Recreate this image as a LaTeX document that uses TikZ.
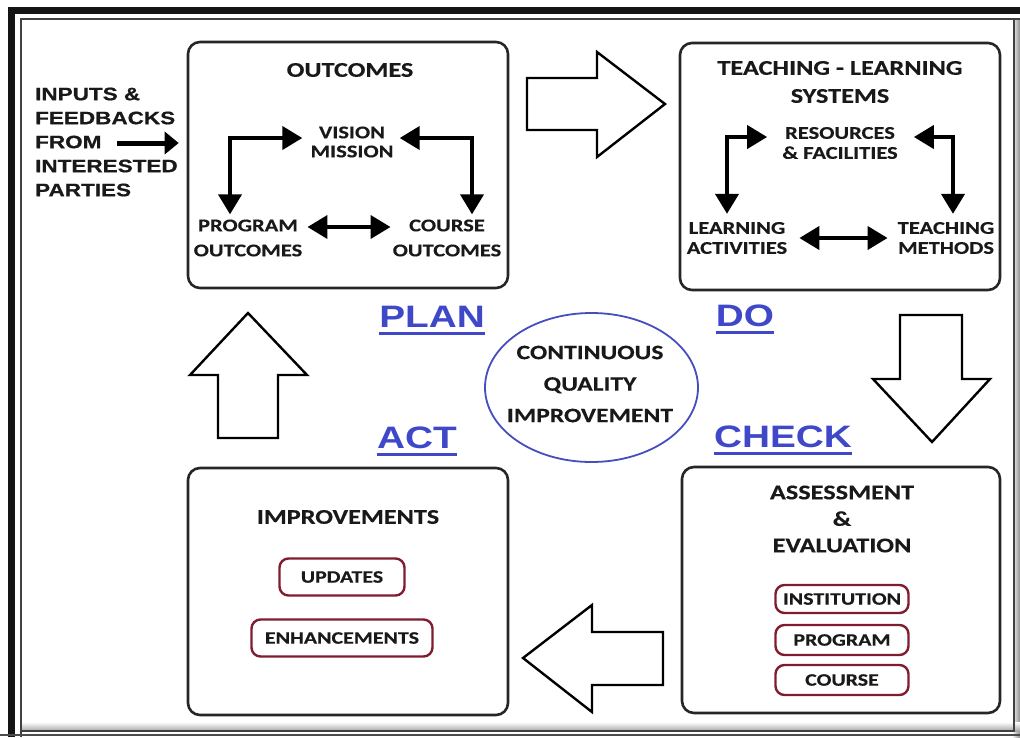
\documentclass[tikz,border=0pt]{standalone}
\usepackage{fontspec}
\usetikzlibrary{arrows.meta,shapes.geometric}
\newfontfamily\cb[FakeStretch=1.25,FakeBold=0.3]{Carlito}
\newfontfamily\ab[FakeStretch=1.25,FakeBold=0.6]{Liberation Sans}
\newfontfamily\abl[FakeStretch=1.25]{Liberation Sans}
\definecolor{lblue}{RGB}{62,72,200}
\definecolor{eblue}{RGB}{70,78,190}
\definecolor{boxred}{RGB}{128,28,45}
\definecolor{txt}{RGB}{25,25,25}
\newcommand{\fs}[2]{\fontsize{#1}{#2}\selectfont}
\tikzset{
  bigbox/.style={draw=black!85, line width=2.6pt, rounded corners=12pt, inner sep=0pt},
  redbox/.style={draw=boxred, line width=2.4pt, rounded corners=9pt, inner sep=0pt, text=txt, font=\cb\bfseries\fs{17.5}{20}},
  ttl/.style={text=txt, align=center, inner sep=2pt, font=\cb\bfseries\fs{21}{28}},
  inner/.style={text=txt, align=center, inner sep=2pt},
  dbl/.style={line width=4pt, {Triangle[length=20pt,width=23pt]}-{Triangle[length=20pt,width=23pt]}},
  hollow/.style={draw, line width=2.4pt, fill=white, line join=miter},
  lbl/.style={text=lblue, font=\abl\bfseries\fs{31}{31}, inner sep=0pt, anchor=base},
  uline/.style={draw=lblue, line width=2.4pt},
}
\begin{document}
\begin{tikzpicture}[x=1pt,y=-1pt]
\useasboundingbox (0,0) rectangle (1020,737);
\fill[white] (0,0) rectangle (1020,737);
% outer frame (cut at right and bottom)
\shade[left color=white, right color=black!45] (1012,19) rectangle (1020,737);
\shade[top color=white, bottom color=black!35] (21,722) rectangle (1020,731);
\draw[line width=7pt, black!92] (11.5,737) -- (11.5,10.5) -- (1020,10.5);
\draw[line width=1.6pt, black!75] (21,737) -- (21,19) -- (1020,19);
\draw[line width=1.6pt, black!75] (21,731) -- (1014,731) -- (1014,19);
\draw[line width=1.4pt, black!70] (0,735) -- (1020,735);

% main boxes
\node[bigbox, minimum width=320, minimum height=246] (outbox) at (348,165) {};
\node[bigbox, minimum width=320, minimum height=247] (tlbox) at (840,166.5) {};
\node[bigbox, minimum width=320, minimum height=247] (impbox) at (348,591.5) {};
\node[bigbox, minimum width=318, minimum height=246] (assbox) at (841,590) {};

% inputs
\node[text=txt, align=left, anchor=west, inner sep=0pt, font=\ab\bfseries\fs{18}{24}] (inputs) at (35,142)
  {INPUTS \&\\FEEDBACKS\\FROM\\INTERESTED\\PARTIES};
\coordinate (instart) at (117,143);
\draw[line width=5pt, -{Triangle[length=14pt,width=22pt]}, shorten >=8pt] (instart) -- (instart -| outbox.west);

% OUTCOMES box
\node[ttl] (outtitle) at (350,70) {OUTCOMES};
\node[inner, font=\cb\bfseries\fs{18}{19}] (vm) at (352,142) {VISION\\MISSION};
\node[inner, font=\cb\bfseries\fs{18}{25}] (po) at (248,238) {PROGRAM\\OUTCOMES};
\node[inner, font=\cb\bfseries\fs{18}{25}] (co) at (447,238) {COURSE\\OUTCOMES};
\draw[dbl] ([yshift=4pt,xshift=-6pt]vm.west) -| ([xshift=-18pt,yshift=3pt]po.north);
\draw[dbl] ([yshift=4pt,xshift=4pt]vm.east) -| ([xshift=25pt,yshift=3pt]co.north);
\draw[dbl] ([yshift=11pt,xshift=3pt]po.east) -- ([yshift=11pt]co.west);

% TEACHING box
\node[ttl] (tltitle) at (840,82) {TEACHING - LEARNING\\SYSTEMS};
\node[inner, font=\cb\bfseries\fs{18}{20}] (rs) at (840,143) {RESOURCES\\\& FACILITIES};
\node[inner, font=\cb\bfseries\fs{18}{20}] (la) at (737,238) {LEARNING\\ACTIVITIES};
\node[inner, font=\cb\bfseries\fs{18}{20}] (tm) at (946,238) {TEACHING\\METHODS};
\draw[dbl] ([yshift=6pt,xshift=-13pt]rs.west) -| ([xshift=-10pt,yshift=6pt]la.north);
\draw[dbl] ([yshift=6pt,xshift=14pt]rs.east) -| ([xshift=7pt,yshift=6pt]tm.north);
\draw[dbl] ([xshift=10pt]la.east) -- ([xshift=-8pt]tm.west);

% IMPROVEMENTS box
\node[ttl] (imptitle) at (348,517) {IMPROVEMENTS};
\node[redbox, minimum width=125, minimum height=37] (upd) at (342,577) {UPDATES};
\node[redbox, minimum width=181, minimum height=37] (enh) at (342,638) {ENHANCEMENTS};

% ASSESSMENT box
\node[ttl, font=\cb\bfseries\fs{21}{26.5}] (asstitle) at (842,519) {ASSESSMENT\\\&\\EVALUATION};
\node[redbox, minimum width=133, minimum height=28] (inst) at (842,599) {INSTITUTION};
\node[redbox, minimum width=133, minimum height=30] (prog) at (842,640) {PROGRAM};
\node[redbox, minimum width=133, minimum height=30] (crs) at (842,680) {COURSE};

% hollow arrows
\draw[hollow] (527,78) -- (597,78) -- (597,52) -- (665,104) -- (597,157) -- (597,130) -- (527,130) -- cycle;
\draw[hollow] (900,315) -- (962,315) -- (962,379) -- (990,379) -- (932,442) -- (873,379) -- (900,379) -- cycle;
\draw[hollow] (663,632) -- (592,632) -- (592,605) -- (523,658) -- (592,712) -- (592,685) -- (663,685) -- cycle;
\draw[hollow] (218,438) -- (218,375) -- (190,375) -- (248,313) -- (307,375) -- (278,375) -- (278,438) -- cycle;

% centre ellipse
\node[ellipse, draw=eblue, line width=1.8pt, minimum width=213, minimum height=149, inner sep=0pt] (cqi) at (591.5,387.5) {};
\node[inner, font=\cb\bfseries\fs{20.5}{31.5}] (cqitext) at (590,384) {CONTINUOUS\\QUALITY\\IMPROVEMENT};

% PDCA labels
\node[lbl] (plan) at (432,327) {PLAN};
\node[lbl] (act) at (417,448) {ACT};
\node[lbl] (do) at (745,326) {DO};
\node[lbl] (check) at (783,447) {CHECK};
\foreach \n in {plan,act,do,check}{
  \draw[uline] ([yshift=-6.5pt]\n.base west) -- ([yshift=-6.5pt]\n.base east);
}
\end{tikzpicture}
\end{document}
